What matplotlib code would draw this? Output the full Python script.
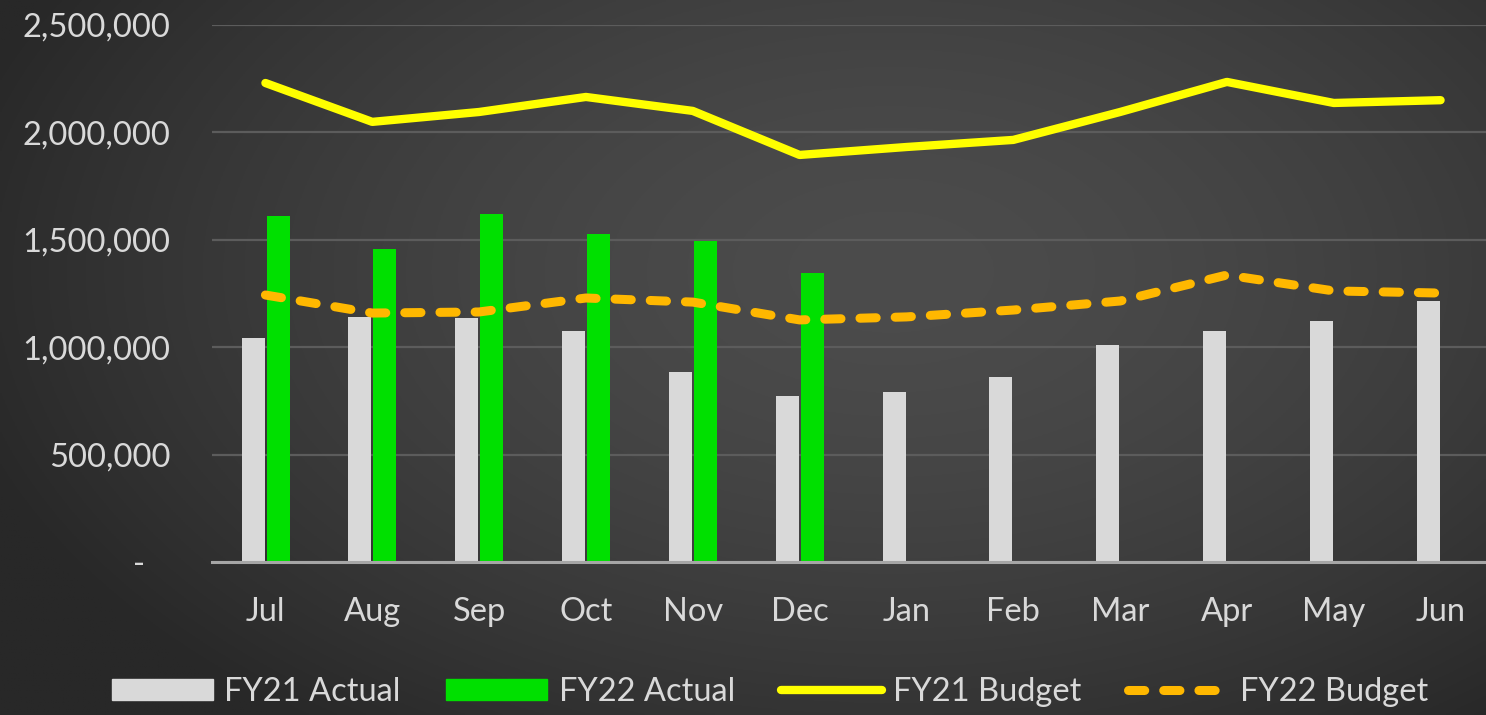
import numpy as np
import matplotlib
matplotlib.use("Agg")
import matplotlib.pyplot as plt
from matplotlib.patches import Patch
from matplotlib.lines import Line2D
from matplotlib.ticker import FuncFormatter

months = ["Jul", "Aug", "Sep", "Oct", "Nov", "Dec", "Jan", "Feb", "Mar", "Apr", "May", "Jun"]
fy21_actual = [1045000, 1140000, 1138000, 1075000, 885000, 773000, 791000, 861000, 1010000, 1075000, 1122000, 1215000]
fy22_actual = [1611000, 1457000, 1620000, 1527000, 1494000, 1345000]
fy21_budget = [2230000, 2049000, 2095000, 2165000, 2100000, 1895000, 1932000, 1965000, 2095000, 2235000, 2137000, 2150000]
fy22_budget = [1243000, 1159000, 1164000, 1229000, 1210000, 1127000, 1141000, 1173000, 1215000, 1336000, 1262000, 1252000]
yticks = [0, 500000, 1000000, 1500000, 2000000, 2500000]

plt.rcParams['font.family'] = ['Lato', 'DejaVu Sans']
TXT = '#d9d9d9'
FS = 23.5

W, H = 1486, 715
fig = plt.figure(figsize=(W / 100, H / 100), dpi=100)

# background radial gradient
bg = fig.add_axes([0, 0, 1, 1], zorder=-10)
yy, xx = np.mgrid[0:1:300j, 0:1:600j]
r = np.sqrt(((xx - 0.6) / 0.65) ** 2 + ((yy - 0.38) / 0.8) ** 2)
val = 0x4c - (0x4c - 0x28) * np.clip(r, 0, 1) ** 1.6
img = np.dstack([val, val, val]) / 255.0
bg.imshow(img, aspect='auto', extent=[0, 1, 1, 0])
bg.set_xlim(0, 1); bg.set_ylim(1, 0)
bg.axis('off')

ax = fig.add_axes([212 / W, 153 / H, 1282 / W, 537 / H])
ax.set_facecolor('none')
x = np.arange(len(months))
bw = 0.215
ax.bar(x - 0.115, fy21_actual, width=bw, color='#d9d9d9', zorder=3)
ax.bar(x[:len(fy22_actual)] + 0.118, fy22_actual, width=bw, color='#00e000', zorder=3)
ax.plot(x, fy21_budget, color='#ffff00', lw=6, solid_capstyle='round', solid_joinstyle='round', zorder=4)
ax.plot(x, fy22_budget, color='#ffb800', lw=6.5, dashes=(1.8, 2.1), dash_capstyle='round', zorder=4)

ax.set_xlim(-0.5, 11.5)
ax.set_ylim(0, 2500000)
ax.set_yticks(yticks)
ax.yaxis.set_major_formatter(FuncFormatter(lambda v, p: '-   ' if v == 0 else f"{int(v):,}"))
ax.set_xticks(x)
ax.set_xticklabels(months)
ax.tick_params(axis='y', length=0, pad=30, labelsize=FS, labelcolor=TXT)
ax.tick_params(axis='x', length=0, pad=25, labelsize=FS, labelcolor=TXT)
ax.grid(axis='y', color='#5c5c5c', lw=1.6, zorder=0)
for s in ['top', 'right', 'left']:
    ax.spines[s].set_visible(False)
ax.spines['bottom'].set_color('#a6a6a6')
ax.spines['bottom'].set_linewidth(2.2)
ax.spines['bottom'].set_zorder(5)

handles = [Patch(color='#d9d9d9'), Patch(color='#00e000'),
           Line2D([], [], color='#ffff00', lw=6, solid_capstyle='round'),
           Line2D([], [], color='#ffb800', lw=6.5, dashes=(1.8, 2.1), dash_capstyle='round')]
labels = ["FY21 Actual", "FY22 Actual", "FY21 Budget", "FY22 Budget"]
leg = fig.legend(handles, labels, loc='center', bbox_to_anchor=(770 / W, 1 - 692 / H), ncol=4,
                 frameon=False, fontsize=FS, labelcolor=TXT, handlelength=3.1, handleheight=0.65,
                 columnspacing=1.4, handletextpad=0.35)

fig.savefig('out.png', dpi=100)
